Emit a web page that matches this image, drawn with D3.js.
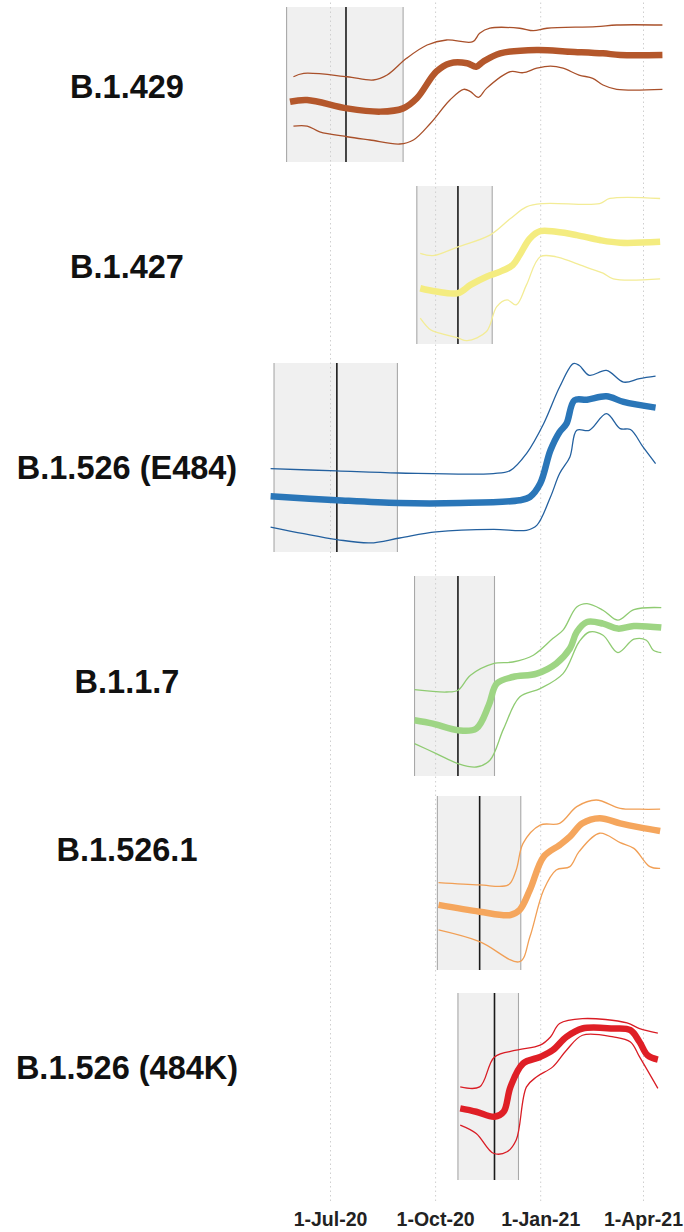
<!DOCTYPE html>
<html>
<head>
<meta charset="utf-8">
<script src="https://cdn.jsdelivr.net/npm/d3@7/dist/d3.min.js"></script>
<style>
  html, body { margin: 0; padding: 0; background: #fff; }
  svg { display: block; }
</style>
</head>
<body>
<svg id="chart" width="684" height="1232"></svg>
<script>
// ---- data -------------------------------------------------------------
const variants = ["B.1.429", "B.1.427", "B.1.526 (E484)", "B.1.1.7", "B.1.526.1", "B.1.526 (484K)"];
const colors = ["#b4572b", "#f4ec80", "#2a76b8", "#9ed584", "#f5a65d", "#df1f26"];
const bandColors = ["#a9502a", "#f3ec96", "#23609f", "#8fcb72", "#f19f55", "#d91c24"];

const tickDates = ["2020-07-01", "2020-10-01", "2021-01-01", "2021-04-01"];
const tickLabels = ["1-Jul-20", "1-Oct-20", "1-Jan-21", "1-Apr-21"];

// shaded window and marker date for each variant
const windowStart = ["2020-05-24", "2020-09-15", "2020-05-13", "2020-09-13", "2020-10-03", "2020-10-21"];
const windowEnd   = ["2020-09-03", "2020-11-20", "2020-08-29", "2020-11-22", "2020-12-15", "2020-12-13"];
const markerDate  = ["2020-07-15", "2020-10-21", "2020-07-07", "2020-10-21", "2020-11-09", "2020-11-22"];

// relative index (0-100 within each panel): estimate, upper and lower bounds
const b1429Mid = [["2020-05-27",38.9],["2020-06-11",40.0],["2020-07-16",34.6],["2020-08-14",32.5],["2020-09-03",34.6],["2020-09-15",41.1],["2020-10-02",58.3],["2020-10-14",63.7],["2020-10-29",63.7],["2020-11-06",61.5],["2020-11-12",64.7],["2020-11-27",70.1],["2020-12-29",72.3],["2021-01-27",71.2],["2021-02-25",70.1],["2021-03-12",69.0],["2021-04-18",69.0]];
const b1429Hi = [["2020-05-30",55.0],["2020-06-08",57.2],["2020-07-16",55.0],["2020-08-08",52.9],["2020-08-20",56.1],["2020-09-06",66.9],["2020-09-24",75.5],["2020-10-11",78.7],["2020-11-03",77.6],["2020-11-09",83.0],["2020-11-18",86.3],["2020-12-14",86.3],["2020-12-26",84.7],["2021-01-07",86.3],["2021-02-19",87.3],["2021-03-09",88.4],["2021-04-18",88.4]];
const b1429Lo = [["2020-05-30",23.2],["2020-06-11",23.2],["2020-06-22",19.5],["2020-07-16",16.3],["2020-08-05",14.2],["2020-08-31",11.6],["2020-09-12",14.2],["2020-09-27",25.0],["2020-10-14",40.0],["2020-10-26",46.9],["2020-11-01",45.4],["2020-11-08",41.7],["2020-11-15",47.5],["2020-12-06",58.3],["2020-12-17",57.6],["2020-12-29",60.5],["2021-01-10",61.9],["2021-01-21",60.5],["2021-02-04",56.1],["2021-02-16",54.0],["2021-02-25",49.7],["2021-03-09",46.9],["2021-04-18",46.9]];

const b1427Mid = [["2020-09-18",35.3],["2020-10-02",33.2],["2020-10-21",32.2],["2020-11-01",37.4],["2020-11-15",42.6],["2020-11-27",45.8],["2020-12-08",50.0],["2020-12-14",56.3],["2020-12-23",66.8],["2021-01-01",71.4],["2021-01-15",71.0],["2021-02-02",68.9],["2021-02-22",65.8],["2021-03-12",64.1],["2021-04-16",64.7]];
const b1427Hi = [["2020-09-18",57.4],["2020-09-29",55.9],["2020-10-21",61.5],["2020-11-18",68.9],["2020-12-06",79.4],["2020-12-20",86.8],["2021-01-04",88.9],["2021-02-22",88.9],["2021-03-03",92.1],["2021-04-16",92.1]];
const b1427Lo = [["2020-09-18",16.4],["2020-09-27",9.0],["2020-10-05",6.9],["2020-10-21",3.8],["2020-10-29",2.1],["2020-11-15",7.9],["2020-11-24",23.7],["2020-12-03",27.9],["2020-12-11",24.8],["2020-12-20",37.4],["2021-01-01",55.2],["2021-01-15",55.2],["2021-01-30",51.7],["2021-02-13",47.9],["2021-02-25",44.8],["2021-03-06",41.2],["2021-04-16",41.2]];

const b1526eMid = [["2020-05-10",29.5],["2020-07-07",27.4],["2020-08-30",25.9],["2020-10-23",25.9],["2020-12-14",27.4],["2020-12-23",29.1],["2021-01-01",36.2],["2021-01-10",53.8],["2021-01-18",63.5],["2021-01-24",67.9],["2021-01-31",80.3],["2021-02-11",80.6],["2021-02-28",82.4],["2021-03-15",79.4],["2021-04-12",76.4]];
const b1526eHi = [["2020-05-10",44.1],["2020-07-07",42.9],["2020-08-30",41.8],["2020-11-21",41.5],["2020-12-06",43.2],["2020-12-20",52.1],["2021-01-04",67.9],["2021-01-18",87.3],["2021-01-30",99.7],["2021-02-04",98.8],["2021-02-13",93.5],["2021-02-28",96.1],["2021-03-15",89.9],["2021-03-29",91.7],["2021-04-12",93.0]];
const b1526eLo = [["2020-05-10",13.2],["2020-06-08",9.7],["2020-07-07",6.6],["2020-08-05",4.8],["2020-08-31",7.4],["2020-10-02",10.6],["2020-11-21",12.0],["2020-12-20",11.5],["2020-12-29",14.1],["2021-01-10",29.1],["2021-01-18",41.5],["2021-01-27",50.3],["2021-02-02",64.4],["2021-02-13",64.4],["2021-02-28",73.2],["2021-03-12",65.3],["2021-03-21",64.8],["2021-04-01",55.6],["2021-04-12",46.8]];

const b117Mid = [["2020-09-13",27.9],["2020-09-29",26.2],["2020-10-21",22.9],["2020-11-06",23.7],["2020-11-17",35.4],["2020-11-24",46.2],["2020-12-08",49.5],["2020-12-29",51.2],["2021-01-15",56.2],["2021-01-27",63.7],["2021-02-02",72.0],["2021-02-11",77.0],["2021-02-25",76.2],["2021-03-10",73.7],["2021-03-24",75.0],["2021-04-17",74.2]];
const b117Hi = [["2020-09-13",43.2],["2020-10-11",42.0],["2020-10-21",42.9],["2020-11-01",50.4],["2020-11-21",56.2],["2020-12-08",57.0],["2020-12-26",60.4],["2021-01-12",68.7],["2021-01-21",72.9],["2021-02-02",84.5],["2021-02-11",86.2],["2021-02-25",82.9],["2021-03-10",77.9],["2021-03-24",83.2],["2021-04-17",84.2]];
const b117Lo = [["2020-09-13",16.2],["2020-10-02",11.2],["2020-10-21",6.2],["2020-11-06",4.5],["2020-11-18",7.9],["2020-11-30",23.7],["2020-12-14",39.5],["2021-01-01",43.7],["2021-01-21",51.2],["2021-02-04",67.0],["2021-02-13",72.0],["2021-02-25",70.4],["2021-03-10",61.7],["2021-03-24",68.4],["2021-04-04",67.9],["2021-04-10",62.9],["2021-04-17",61.7]];

const b15261Mid = [["2020-10-04",37.4],["2020-11-09",33.5],["2020-12-06",31.6],["2020-12-14",34.5],["2020-12-23",46.0],["2021-01-04",65.1],["2021-01-18",71.8],["2021-01-27",76.6],["2021-02-07",84.3],["2021-02-22",87.2],["2021-03-12",84.3],["2021-03-29",82.0],["2021-04-16",79.9]];
const b15261Hi = [["2020-10-04",50.2],["2020-11-09",48.9],["2020-12-04",48.9],["2020-12-11",57.5],["2020-12-17",72.8],["2021-01-01",83.3],["2021-01-18",84.3],["2021-02-02",93.9],["2021-02-19",97.7],["2021-03-12",92.9],["2021-03-29",92.4],["2021-04-16",92.4]];
const b15261Lo = [["2020-10-04",23.0],["2020-11-09",16.3],["2020-12-14",4.8],["2020-12-23",19.1],["2021-01-04",46.0],["2021-01-15",57.5],["2021-01-27",59.4],["2021-02-04",68.0],["2021-02-22",78.6],["2021-03-12",73.2],["2021-03-24",69.9],["2021-04-07",59.4],["2021-04-16",58.4]];

const b1526kMid = [["2020-10-23",38.3],["2020-11-06",36.5],["2020-11-22",33.8],["2020-11-30",36.5],["2020-12-06",49.8],["2020-12-17",62.3],["2021-01-01",65.8],["2021-01-12",69.4],["2021-01-24",76.5],["2021-02-07",81.0],["2021-03-06",81.0],["2021-03-21",80.1],["2021-03-29",73.8],["2021-04-05",66.7],["2021-04-14",64.4]];
const b1526kHi = [["2020-10-23",49.8],["2020-11-09",49.8],["2020-11-22",65.8],["2020-12-11",69.4],["2021-01-01",72.1],["2021-01-10",76.5],["2021-01-18",83.7],["2021-02-07",86.3],["2021-03-18",84.0],["2021-03-29",81.0],["2021-04-14",78.6]];
const b1526kLo = [["2020-10-23",29.4],["2020-11-06",24.9],["2020-11-21",14.3],["2020-12-03",15.1],["2020-12-11",21.4],["2020-12-20",49.8],["2020-12-29",55.2],["2021-01-12",60.5],["2021-01-24",69.4],["2021-02-07",77.4],["2021-03-06",76.5],["2021-03-21",73.8],["2021-03-29",65.8],["2021-04-14",49.0]];

const mids = [b1429Mid, b1427Mid, b1526eMid, b117Mid, b15261Mid, b1526kMid];
const highs = [b1429Hi, b1427Hi, b1526eHi, b117Hi, b15261Hi, b1526kHi];
const lows = [b1429Lo, b1427Lo, b1526eLo, b117Lo, b15261Lo, b1526kLo];

// ---- layout -------------------------------------------------------------
const panelTop    = [7, 186, 363, 576, 796, 993];
const panelBottom = [162, 344, 552, 776, 970, 1180];
const labelY      = [86, 266, 467, 681, 849, 1067];
const labelX = 127;

const parse = d3.utcParse("%Y-%m-%d");
const x = d3.scaleUtc()
  .domain([parse("2020-07-01"), parse("2021-04-01")])
  .range([330, 643]);

const svg = d3.select("#chart");

// shaded windows (fill only, drawn under the grid)
variants.forEach((v, i) => {
  svg.append("rect")
    .attr("x", x(parse(windowStart[i])))
    .attr("y", panelTop[i])
    .attr("width", x(parse(windowEnd[i])) - x(parse(windowStart[i])))
    .attr("height", panelBottom[i] - panelTop[i])
    .attr("fill", "#f0f0f0");
});

// dotted vertical grid at each quarter
const xAxis = d3.axisBottom(x)
  .tickValues(tickDates.map(parse))
  .tickFormat((d, i) => tickLabels[i])
  .tickSize(-1200)
  .tickPadding(11);

const axisG = svg.append("g")
  .attr("transform", "translate(0,1201)")
  .call(xAxis);
axisG.select(".domain").remove();
axisG.selectAll(".tick line")
  .attr("stroke", "#cfcfcf")
  .attr("stroke-width", 1)
  .attr("stroke-dasharray", "1.5,3");
axisG.selectAll(".tick text")
  .attr("fill", "#222")
  .style("font-family", "'Liberation Sans', Arial, Helvetica, sans-serif")
  .style("font-weight", "bold")
  .style("font-size", "19.5px");

// window borders and marker lines
variants.forEach((v, i) => {
  const g = svg.append("g");
  [windowStart[i], windowEnd[i]].forEach(d => {
    g.append("line")
      .attr("x1", x(parse(d))).attr("x2", x(parse(d)))
      .attr("y1", panelTop[i]).attr("y2", panelBottom[i])
      .attr("stroke", "#a8a8a8").attr("stroke-width", 1.1);
  });
  g.append("line")
    .attr("x1", x(parse(markerDate[i]))).attr("x2", x(parse(markerDate[i])))
    .attr("y1", panelTop[i]).attr("y2", panelBottom[i])
    .attr("stroke", "#1a1a1a").attr("stroke-width", 1.6);
});

// series lines
variants.forEach((v, i) => {
  const y = d3.scaleLinear().domain([0, 100]).range([panelBottom[i], panelTop[i]]);
  const line = d3.line()
    .x(d => x(parse(d[0])))
    .y(d => y(d[1]))
    .curve(d3.curveCatmullRom.alpha(0.5));

  [highs[i], lows[i]].forEach(s => {
    svg.append("path")
      .datum(s)
      .attr("d", line)
      .attr("fill", "none")
      .attr("stroke", bandColors[i])
      .attr("stroke-width", 1.3)
      .attr("stroke-linejoin", "round");
  });
  svg.append("path")
    .datum(mids[i])
    .attr("d", line)
    .attr("fill", "none")
    .attr("stroke", colors[i])
    .attr("stroke-width", 6.5)
    .attr("stroke-linecap", "butt")
    .attr("stroke-linejoin", "round");
});

// variant names
svg.append("g")
  .selectAll("text")
  .data(variants)
  .join("text")
  .attr("x", labelX)
  .attr("y", (d, i) => labelY[i] + 11.5)
  .attr("text-anchor", "middle")
  .attr("fill", "#111")
  .style("font-family", "'Liberation Sans', Arial, Helvetica, sans-serif")
  .style("font-weight", "bold")
  .style("font-size", "32.5px")
  .text(d => d);
</script>
</body>
</html>
